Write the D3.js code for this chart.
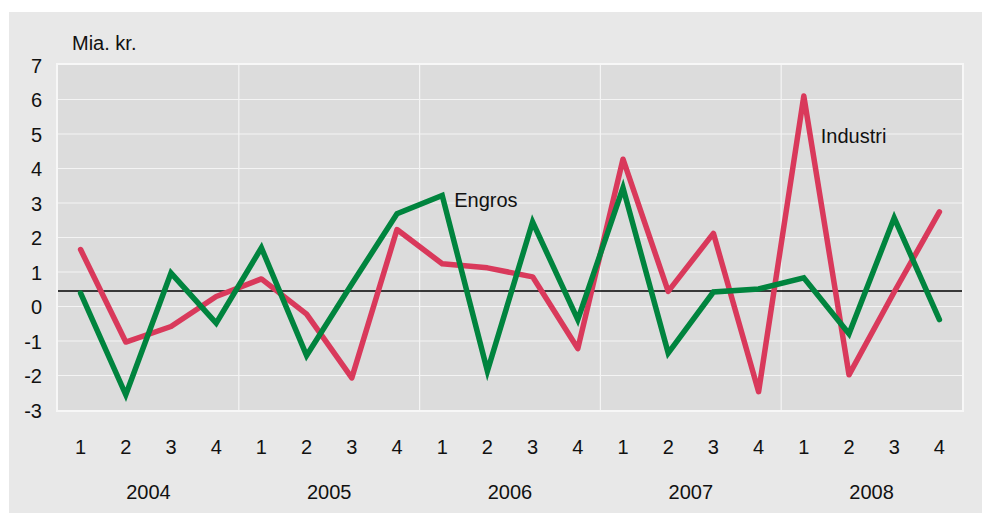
<!DOCTYPE html>
<html>
<head>
<meta charset="utf-8">
<script src="https://cdn.jsdelivr.net/npm/d3@7"></script>
<style>
    body { margin: 0; background: #ffffff; }
    text { font-family: "Liberation Sans Narrow", "Arial Narrow", "Liberation Sans", sans-serif; fill: #111; }
</style>
</head>
<body>
<div id="chart"></div>
<script>
// data
var years = ["2004", "2005", "2006", "2007", "2008"];
var quarters = ["1", "2", "3", "4"];
var industri = [1.65, -1.03, -0.58, 0.29, 0.8, -0.22, -2.07, 2.23, 1.24, 1.12, 0.86, -1.22, 4.27, 0.44, 2.12, -2.47, 6.1, -1.98, 0.42, 2.74];
var engros = [0.39, -2.56, 0.97, -0.48, 1.7, -1.42, 0.65, 2.69, 3.22, -1.87, 2.45, -0.38, 3.44, -1.35, 0.42, 0.51, 0.83, -0.79, 2.57, -0.38];
var yTicks = [-3, -2, -1, 0, 1, 2, 3, 4, 5, 6, 7];
var refLine = 0.45;

var W = 982, H = 513;
var margin = { top: 65, right: 20, bottom: 103, left: 58 },
    width = 962 - margin.left,
    height = 410 - margin.top;

var svg = d3.select("#chart").append("svg")
    .attr("width", W)
    .attr("height", H);

// outer panel
svg.append("rect")
    .attr("x", 9).attr("y", 12)
    .attr("width", W - 9).attr("height", H - 12)
    .attr("fill", "#e8e8e8");

var g = svg.append("g")
    .attr("transform", "translate(" + margin.left + "," + margin.top + ")");

var slots = [];
years.forEach(function(yr) {
    quarters.forEach(function(q) { slots.push(yr + "-" + q); });
});

var x = d3.scaleBand().domain(slots).range([0, width]);
var xYear = d3.scaleBand().domain(years).range([0, width]);
var y = d3.scaleLinear().domain([-3, 7]).range([height, 0]);

// plot background with white frame
g.append("rect")
    .attr("x", -1).attr("y", -1)
    .attr("width", width + 2).attr("height", height + 2)
    .attr("fill", "#dcdcdc")
    .attr("stroke", "#f7f7f7")
    .attr("stroke-width", 2);

// horizontal grid
g.selectAll(".hgrid")
    .data(yTicks.filter(function(d) { return d > -3 && d < 7; }))
    .enter().append("line")
    .attr("class", "hgrid")
    .attr("x1", 0).attr("x2", width)
    .attr("y1", function(d) { return y(d); })
    .attr("y2", function(d) { return y(d); })
    .attr("stroke", "#f4f4f4")
    .attr("stroke-width", 1);

// year separators
g.selectAll(".vgrid")
    .data(years.slice(1))
    .enter().append("line")
    .attr("class", "vgrid")
    .attr("x1", function(d) { return xYear(d); })
    .attr("x2", function(d) { return xYear(d); })
    .attr("y1", 0).attr("y2", height)
    .attr("stroke", "#f4f4f4")
    .attr("stroke-width", 1.2);

// y axis labels (plain hyphen for negatives, like the original)
var yAxis = d3.axisLeft(y).tickValues(yTicks).tickSize(0).tickPadding(16)
    .tickFormat(function(d) { return String(d); });
var ya = g.append("g").call(yAxis);
ya.select(".domain").remove();
ya.selectAll("text")
    .attr("font-size", 20)
    .attr("dy", "0.36em")
    .style("font-family", null);

// quarter labels
var xAxis = d3.axisBottom(x).tickSize(0).tickPadding(30)
    .tickFormat(function(d) { return d.split("-")[1]; });
var xa = g.append("g").attr("transform", "translate(0," + height + ")").call(xAxis);
xa.select(".domain").remove();
xa.selectAll("text").attr("font-size", 20).style("font-family", null);

// year labels
var xAxis2 = d3.axisBottom(xYear).tickSize(0).tickPadding(75);
var xa2 = g.append("g").attr("transform", "translate(0," + height + ")").call(xAxis2);
xa2.select(".domain").remove();
xa2.selectAll("text").attr("font-size", 20).style("font-family", null);

// reference line
g.append("line")
    .attr("x1", 0).attr("x2", width)
    .attr("y1", y(refLine)).attr("y2", y(refLine))
    .attr("stroke", "#000")
    .attr("stroke-width", 1.6);

var line = d3.line()
    .x(function(d, i) { return x(slots[i]) + x.bandwidth() / 2; })
    .y(function(d) { return y(d); });

g.append("path")
    .datum(industri)
    .attr("fill", "none")
    .attr("stroke", "#d9395b")
    .attr("stroke-width", 5.5)
    .attr("stroke-linejoin", "round")
    .attr("stroke-linecap", "round")
    .attr("d", line);

g.append("path")
    .datum(engros)
    .attr("fill", "none")
    .attr("stroke", "#00843e")
    .attr("stroke-width", 5.5)
    .attr("stroke-linejoin", "miter")
    .attr("stroke-linecap", "round")
    .attr("d", line);

// series labels
g.append("text")
    .attr("x", x("2006-1") + x.bandwidth() / 2 + 12)
    .attr("y", y(engros[8]) + 12)
    .attr("font-size", 20)
    .text("Engros");

g.append("text")
    .attr("x", x("2008-1") + x.bandwidth() / 2 + 17)
    .attr("y", y(4.73))
    .attr("font-size", 20)
    .text("Industri");

// unit label
svg.append("text")
    .attr("x", 72)
    .attr("y", 50)
    .attr("font-size", 20)
    .text("Mia. kr.");
</script>
</body>
</html>
